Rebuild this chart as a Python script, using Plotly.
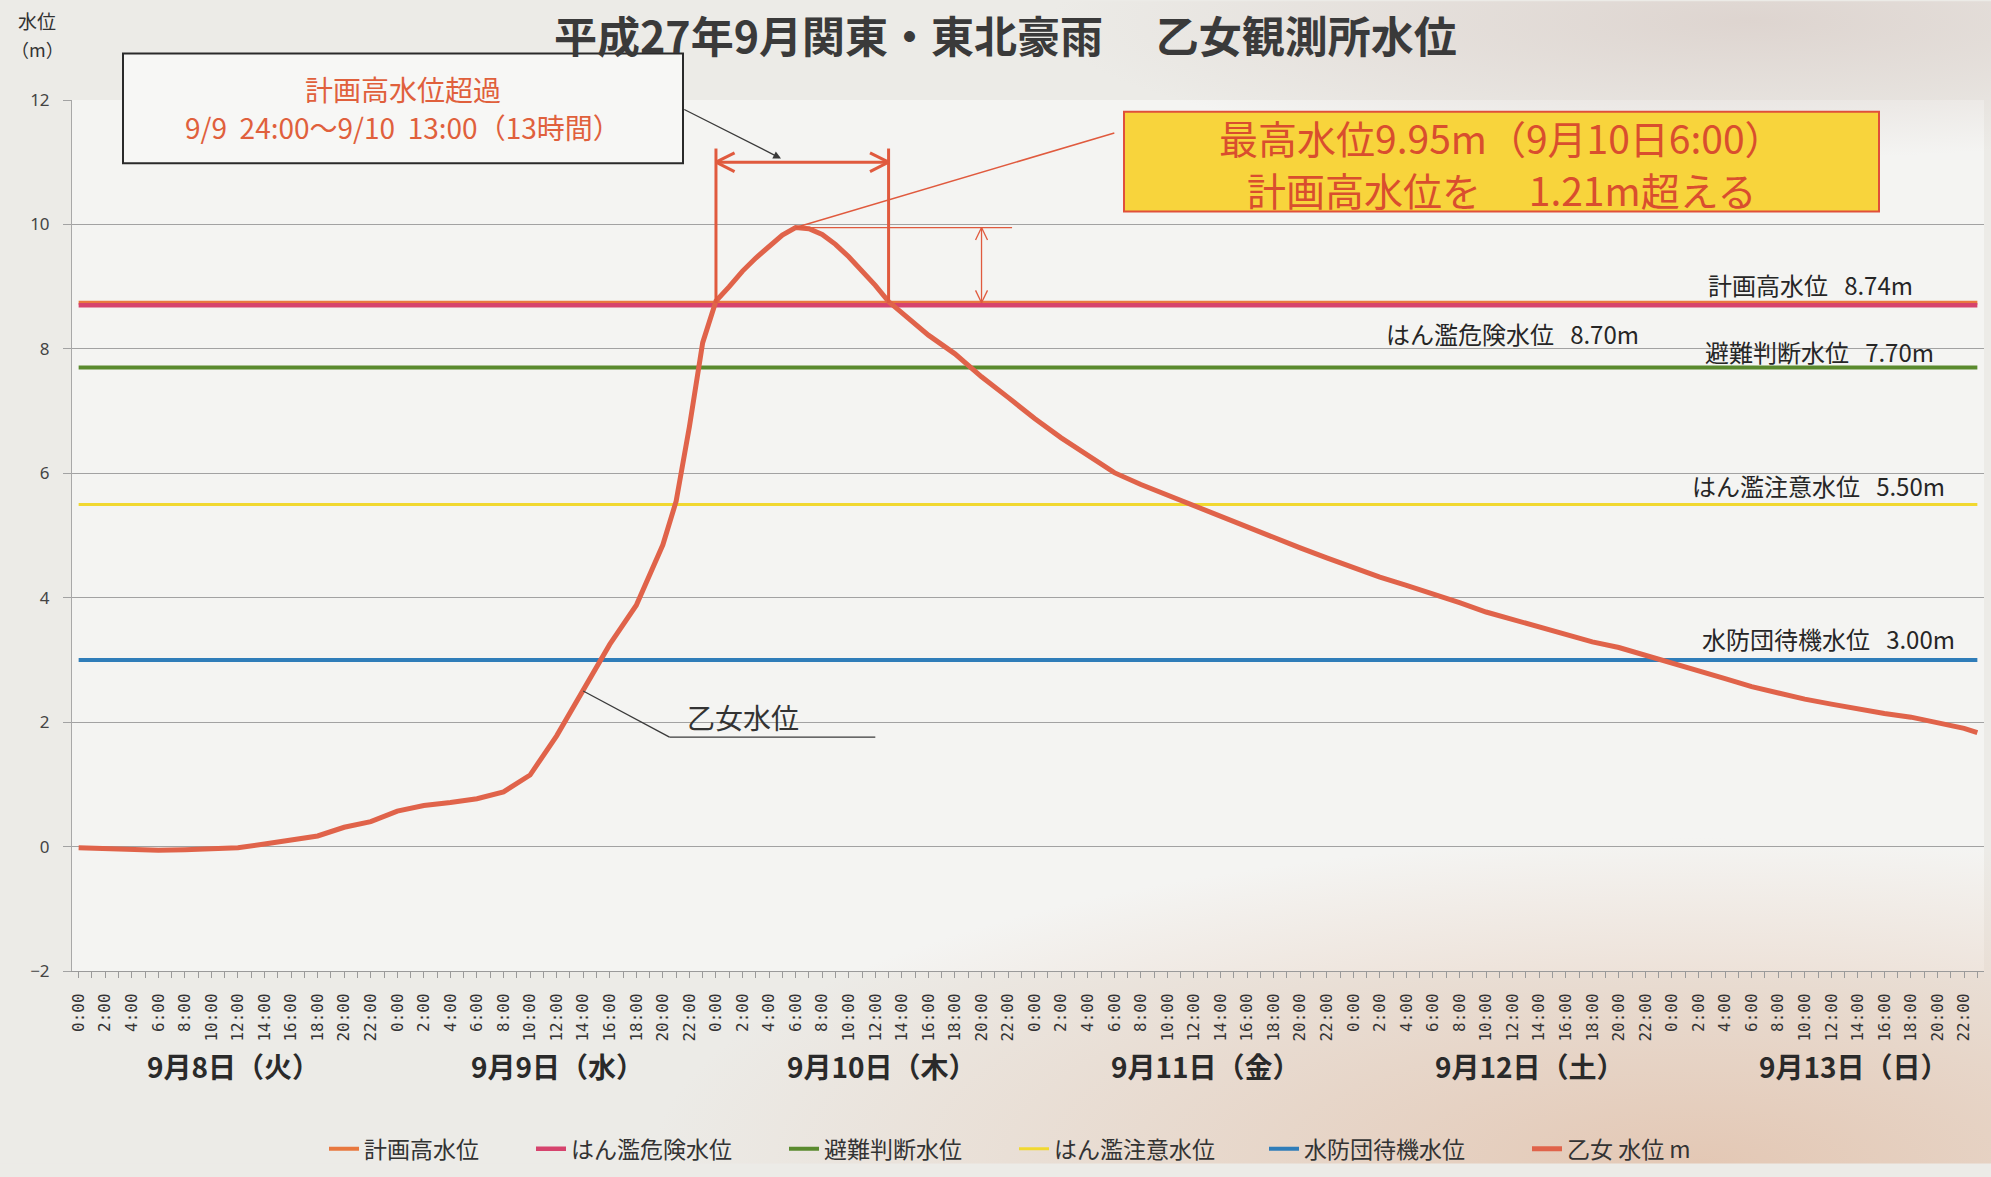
import base64
import plotly.graph_objects as go

# ---------------- data ----------------
# hours counted from 9/8 0:00, water level at 乙女 gauge (m)
hours = [0, 2, 4, 6, 8, 10, 12, 14, 16, 18, 20, 22, 24, 26, 28, 30, 32, 34,
         36, 38, 40, 42, 43, 44, 45, 46, 47, 48, 49, 50, 51, 52, 53, 54, 55,
         56, 57, 58, 60, 61, 62, 64, 66, 68, 70, 72, 74, 76, 78, 80, 82, 84,
         86, 88, 90, 92, 94, 96, 98, 100, 102, 104, 106, 108, 110, 112, 114,
         116, 118, 120, 122, 124, 126, 128, 130, 132, 134, 136, 138, 140, 142,
         143]
level = [-0.02, -0.04, -0.06, -0.06, -0.05, -0.04, -0.02, 0.04, 0.10, 0.17,
         0.31, 0.40, 0.57, 0.66, 0.71, 0.77, 0.88, 1.15, 1.78, 2.50, 3.25,
         3.88, 4.35, 4.85, 5.55, 6.75, 8.10, 8.77, 9.00, 9.25, 9.46, 9.65,
         9.83, 9.95, 9.93, 9.84, 9.68, 9.48, 9.02, 8.76, 8.58, 8.22, 7.92,
         7.55, 7.22, 6.88, 6.57, 6.28, 6.01, 5.82, 5.65, 5.47, 5.29, 5.12,
         4.96, 4.80, 4.64, 4.48, 4.33, 4.20, 4.07, 3.92, 3.77, 3.65, 3.52,
         3.40, 3.29, 3.20, 3.08, 2.96, 2.83, 2.70, 2.57, 2.46, 2.37, 2.29,
         2.21, 2.14, 2.08, 2.00, 1.90, 1.83]
level_name = "乙女 水位 m"

thr_names = ["計画高水位", "はん濫危険水位", "避難判断水位", "はん濫注意水位", "水防団待機水位"]
thr_values = [8.74, 8.70, 7.70, 5.50, 3.00]

tick_hours = list(range(0, 144, 2))
tick_text = [f"{h % 24}:00" for h in tick_hours]
day_labels = ["9月8日（火）", "9月9日（水）", "9月10日（木）",
              "9月11日（金）", "9月12日（土）", "9月13日（日）"]

exceed_start, exceed_end = 48, 61          # 9/9 24:00 - 9/10 13:00
peak_value = max(level)
peak_hour = hours[level.index(peak_value)]

# ---------------- styles ----------------
FONT = "Noto Sans CJK JP"
thr_colors = ["#E8783F", "#D6436D", "#5A8A2E", "#F1D830", "#2F7DB9"]
thr_widths = [4, 4.5, 4, 3, 4]
curve_color = "#E0634A"
ann_red = "#E05A3E"

W, H = 1991, 1177
L, R, T, B = 72, 7, 100, 195
PW, PH = W - L - R, H - T - B


def px_x(x):
    return (x - L) / PW


def px_y(y):
    return (H - B - y) / PH


# one small legend per entry so the entries sit at their own spots
legend_left = [324, 531, 784, 1014, 1264, 1527]
legend_keys = ["legend"] + [f"legend{i}" for i in range(2, 7)]

fig = go.Figure()

for k, (name, val, col, lw) in enumerate(zip(thr_names, thr_values, thr_colors, thr_widths)):
    fig.add_trace(go.Scatter(x=[hours[0], hours[-1]], y=[val, val], mode="lines",
                             name=name, legend=legend_keys[k],
                             line=dict(color=col, width=lw)))

fig.add_trace(go.Scatter(x=hours, y=level, mode="lines", name=level_name,
                         legend=legend_keys[5],
                         line=dict(color=curve_color, width=5)))

# ---------------- paper texture ----------------
svg = f'''<svg xmlns="http://www.w3.org/2000/svg" width="{W}" height="{H}" viewBox="0 0 {W} {H}">
<defs>
<radialGradient id="warm"><stop offset="0" stop-color="#E3C6B2" stop-opacity="0.95"/>
<stop offset="1" stop-color="#E3C6B2" stop-opacity="0"/></radialGradient>
<radialGradient id="haze"><stop offset="0" stop-color="#DCD2CD" stop-opacity="0.9"/>
<stop offset="1" stop-color="#DCD2CD" stop-opacity="0"/></radialGradient>
</defs>
<rect width="{W}" height="{H}" fill="#ECEBE7"/>
<rect x="{L}" y="{T}" width="{PW}" height="{PH}" fill="#F4F4F2"/>
<ellipse cx="1700" cy="1177" rx="1050" ry="330" fill="url(#warm)"/>
<ellipse cx="1750" cy="20" rx="700" ry="140" fill="url(#haze)"/>
</svg>'''
bg_src = "data:image/svg+xml;base64," + base64.b64encode(svg.encode()).decode()

shapes = []


def seg(x0, y0, x1, y1, color, width):
    shapes.append(dict(type="line", xref="x", yref="y", x0=x0, y0=y0, x1=x1, y1=y1,
                       line=dict(color=color, width=width)))


def box(left, top, right, bottom, fill, edge):
    shapes.append(dict(type="rect", xref="paper", yref="paper",
                       x0=px_x(left), x1=px_x(right), y0=px_y(bottom), y1=px_y(top),
                       fillcolor=fill, line=dict(color=edge, width=2)))


# note boxes
box(123, 53, 683, 164, "#F7F7F5", "#2A2A2A")
box(1124, 112, 1879, 213, "#F8D43C", "#E0503A")

# exceedance period bracket with double arrow
arrow_y = 11.0
for hx in (exceed_start, exceed_end):
    seg(hx, thr_values[0], hx, 11.22, ann_red, 3)
seg(exceed_start, arrow_y, exceed_end, arrow_y, ann_red, 3)
for tip, sgn in ((exceed_start, 1), (exceed_end, -1)):
    seg(tip, arrow_y, tip + sgn * 1.4, arrow_y + 0.15, ann_red, 3)
    seg(tip, arrow_y, tip + sgn * 1.4, arrow_y - 0.15, ann_red, 3)

# peak marker lines
seg(peak_hour, peak_value, 70.3, peak_value, ann_red, 1.3)
seg(peak_hour, peak_value, 78.0, 11.47, ann_red, 1.5)
# excess height arrow (peak -> plan level)
vx = 68.0
seg(vx, peak_value, vx, thr_values[0], ann_red, 1.3)
for tip, sgn in ((peak_value, -1), (thr_values[0], 1)):
    seg(vx, tip, vx - 0.45, tip + sgn * 0.2, ann_red, 1.3)
    seg(vx, tip, vx + 0.45, tip + sgn * 0.2, ann_red, 1.3)

# leader for the gauge label
lead_i = hours.index(38)
seg(hours[lead_i], level[lead_i], 44.5, 1.76, "#3A3A3A", 1.3)
seg(44.5, 1.76, 60.0, 1.76, "#3A3A3A", 1.3)

annotations = []


def ptext(x, y, text, size, color, weight="normal", xanchor="center"):
    annotations.append(dict(xref="paper", yref="paper", x=px_x(x), y=px_y(y),
                            xanchor=xanchor, yanchor="middle", showarrow=False,
                            text=text, borderpad=0,
                            font=dict(family=FONT, size=size, color=color,
                                      weight=weight)))


# title
annotations.append(dict(xref="paper", yref="paper", x=px_x(1005), y=px_y(1),
                        xanchor="center", yanchor="top", showarrow=False,
                        borderpad=0,
                        text="平成27年9月関東・東北豪雨\u3000 乙女観測所水位",
                        font=dict(family=FONT, size=43, color="#3A3A3A", weight="bold")))

# y axis unit
ptext(37, 19, "水位", 19, "#333")
ptext(37, 48, "（m）", 18, "#333")

# exceedance note
ptext(403, 89, "計画高水位超過", 28, "#E0603C")
ptext(403, 127, "9/9\u00a0\u00a024:00～9/10\u00a0\u00a013:00（13時間）", 28, "#E0603C")
annotations.append(dict(xref="x", yref="y", axref="x", ayref="y",
                        x=52.9, y=11.06, ax=45.5, ay=11.86, text="",
                        showarrow=True, arrowhead=2, arrowsize=1.2,
                        arrowwidth=1.3, arrowcolor="#3A3A3A"))

# peak note
ptext(1501.5, 137, f"最高水位{peak_value:.2f}m（9月10日6:00）", 39, "#D94E2E")
ptext(1501.5, 190, f"計画高水位を\u3000\u00a0{peak_value - thr_values[0]:.2f}m超える",
      39, "#D94E2E")

# gauge label
annotations.append(dict(xref="x", yref="y", x=50.0, y=2.08, showarrow=False,
                        xanchor="center", yanchor="middle", text="乙女水位",
                        font=dict(family=FONT, size=28, color="#333")))

# threshold labels (right edge in hours, vertical offset in m)
label_right = [138.3, 117.7, 139.9, 140.7, 141.5]
label_dy = [0.29, -0.46, 0.26, 0.30, 0.34]
for name, val, xr, dy in zip(thr_names, thr_values, label_right, label_dy):
    annotations.append(dict(xref="x", yref="y", x=xr, y=val + dy, showarrow=False,
                            xanchor="right", yanchor="middle",
                            text=f"{name}\u00a0\u00a0\u00a0{val:.2f}m",
                            font=dict(family=FONT, size=24, color="#262626")))

# day labels under the hour ticks
for i, lab in enumerate(day_labels):
    annotations.append(dict(xref="x", yref="paper", x=24 * i + 12 + 0.4 * i - 0.3,
                            y=px_y(1078), showarrow=False, xanchor="center",
                            yanchor="middle", text=lab,
                            font=dict(family=FONT, size=28, color="#2A2A2A",
                                      weight="bold")))

legends = {}
for key, left in zip(legend_keys, legend_left):
    legends[key] = dict(orientation="h", x=px_x(left), y=px_y(1162), xanchor="left",
                        yanchor="middle", bgcolor="rgba(0,0,0,0)", itemwidth=30,
                        font=dict(family=FONT, size=23, color="#333"))

fig.update_layout(
    width=W, height=H, autosize=False,
    margin=dict(l=L, r=R, t=T, b=B, pad=0),
    paper_bgcolor="#ECEBE7", plot_bgcolor="rgba(0,0,0,0)",
    font=dict(family=FONT, color="#333"),
    shapes=shapes, annotations=annotations,
    images=[dict(source=bg_src, xref="paper", yref="paper",
                 x=-L / PW, y=1 + T / PH, sizex=W / PW, sizey=H / PH,
                 xanchor="left", yanchor="top", sizing="stretch", layer="below")],
    showlegend=True,
    xaxis=dict(range=[-0.5, 143.5], tickmode="array", tickvals=tick_hours,
               ticktext=tick_text, tickangle=-90, ticks="outside", ticklen=6,
               tickcolor="#9A9A9A", showline=True, linecolor="#9A9A9A",
               linewidth=1, showgrid=False, zeroline=False,
               minor=dict(tickmode="linear", tick0=0, dtick=1, ticks="outside",
                          ticklen=6, tickcolor="#9A9A9A"),
               tickfont=dict(family="DejaVu Sans Mono", size=16, color="#333"),
               ticklabelstandoff=9),
    yaxis=dict(range=[-2, 12], tickmode="array", tickvals=list(range(-2, 13, 2)),
               showgrid=True, gridcolor="#A2A2A2", gridwidth=1, zeroline=False,
               showline=True, linecolor="#A8A8A8", linewidth=1, ticks="outside",
               ticklen=8, tickcolor="#A2A2A2",
               tickfont=dict(family="Noto Sans", size=17, color="#444"),
               ticklabelstandoff=10),
    **legends,
)

fig.write_html("out.html")
